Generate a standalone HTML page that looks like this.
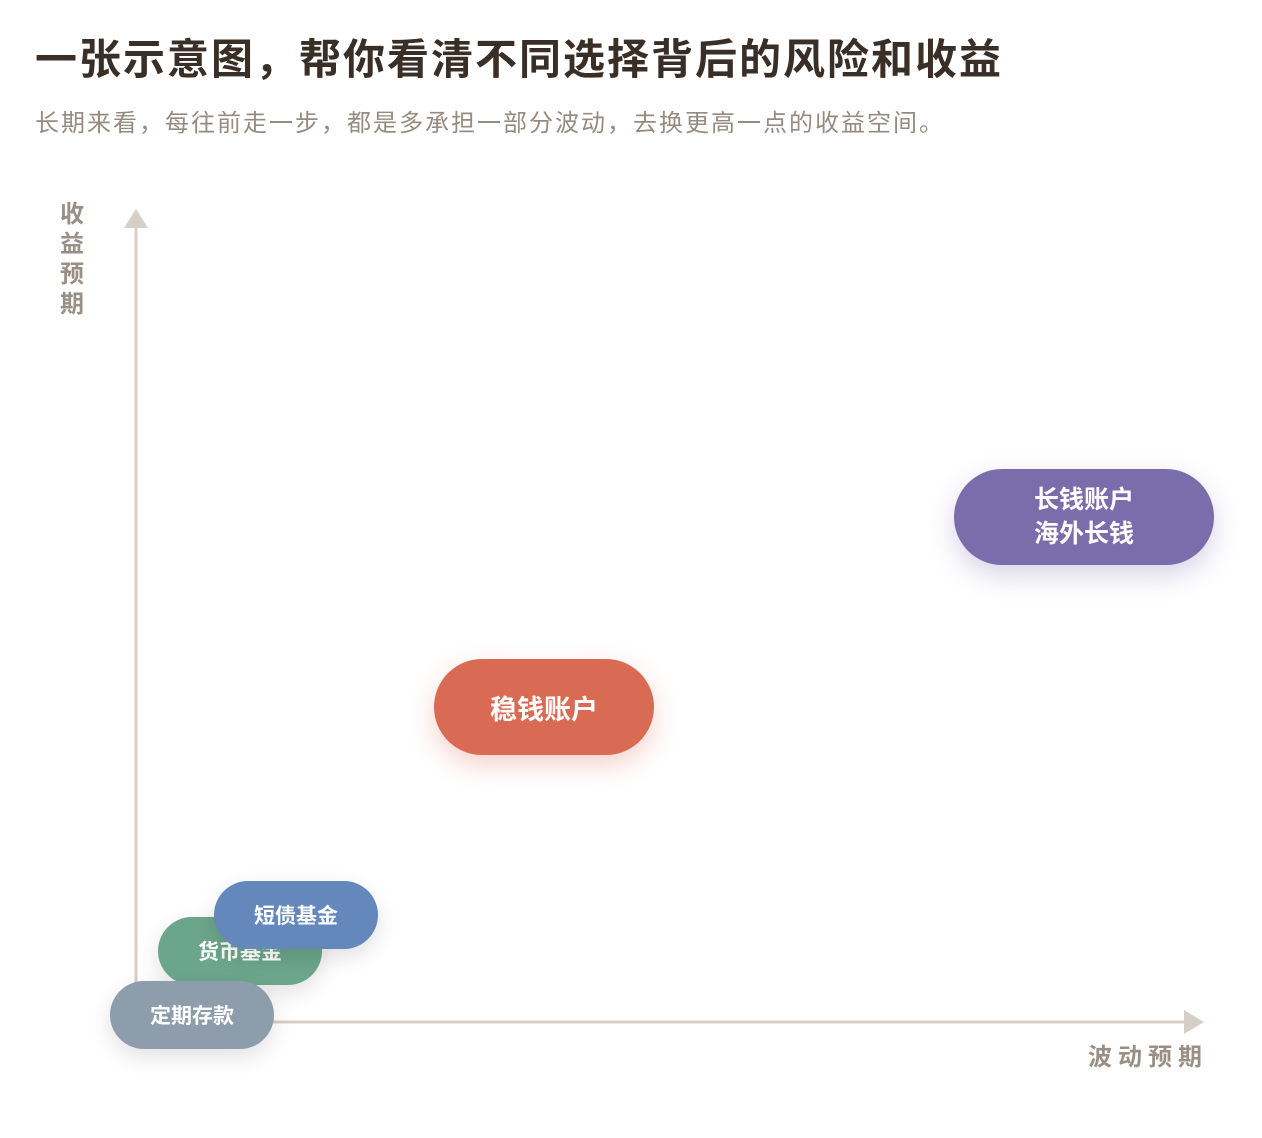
<!DOCTYPE html>
<html><head><meta charset="utf-8"><style>
body{margin:0;width:1262px;height:1138px;background:#fff;position:relative;overflow:hidden;font-family:"Liberation Sans","Noto Sans CJK SC",sans-serif;}
.t{position:absolute;left:35px;top:26px;font-size:42px;font-weight:700;color:#3a2f27;letter-spacing:2px;white-space:nowrap;}
.s{position:absolute;left:35px;top:103px;font-size:24px;color:#968b80;letter-spacing:2px;white-space:nowrap;}
.p{position:absolute;border-radius:999px;color:#fff;font-weight:700;display:flex;align-items:center;justify-content:center;text-align:center;box-shadow:0 8px 22px rgba(0,0,0,0.12);}
.yl{position:absolute;left:58px;top:200px;width:28px;font-size:24px;font-weight:700;color:#9a8f85;line-height:30px;text-align:center;}
.xl{position:absolute;left:1088px;top:1037px;font-size:24px;font-weight:700;color:#9a8f85;letter-spacing:6px;white-space:nowrap;}
</style></head><body>
<div class="t">一张示意图，帮你看清不同选择背后的风险和收益</div>
<div class="s">长期来看，每往前走一步，都是多承担一部分波动，去换更高一点的收益空间。</div>
<svg width="1262" height="1138" style="position:absolute;left:0;top:0">
<line x1="136" y1="226" x2="136" y2="1022" stroke="#d6cfc7" stroke-width="3"/>
<polygon points="136,209 124,228 148,228" fill="#d6cfc7"/>
<line x1="136" y1="1022" x2="1186" y2="1022" stroke="#d6cfc7" stroke-width="3"/>
<polygon points="1204,1022 1184,1010 1184,1034" fill="#d6cfc7"/>
</svg>
<div class="yl">收<br>益<br>预<br>期</div>
<div class="xl">波动预期</div>
<div class="p" style="left:954px;top:469px;width:260px;height:96px;background:#7a6dab;font-size:25px;line-height:34px;box-shadow:0 10px 26px rgba(122,109,171,0.3)">长钱账户<br>海外长钱</div>
<div class="p" style="left:434px;top:659px;width:220px;height:96px;background:#d96a53;font-size:27px;box-shadow:0 10px 26px rgba(217,106,83,0.3)">稳钱账户</div>
<div class="p" style="left:158px;top:917px;width:164px;height:68px;background:#6ca68a;font-size:21px;">货币基金</div>
<div class="p" style="left:214px;top:881px;width:164px;height:68px;background:#6488bb;font-size:21px;">短债基金</div>
<div class="p" style="left:110px;top:981px;width:164px;height:68px;background:#8e9dac;font-size:21px;">定期存款</div>
</body></html>
